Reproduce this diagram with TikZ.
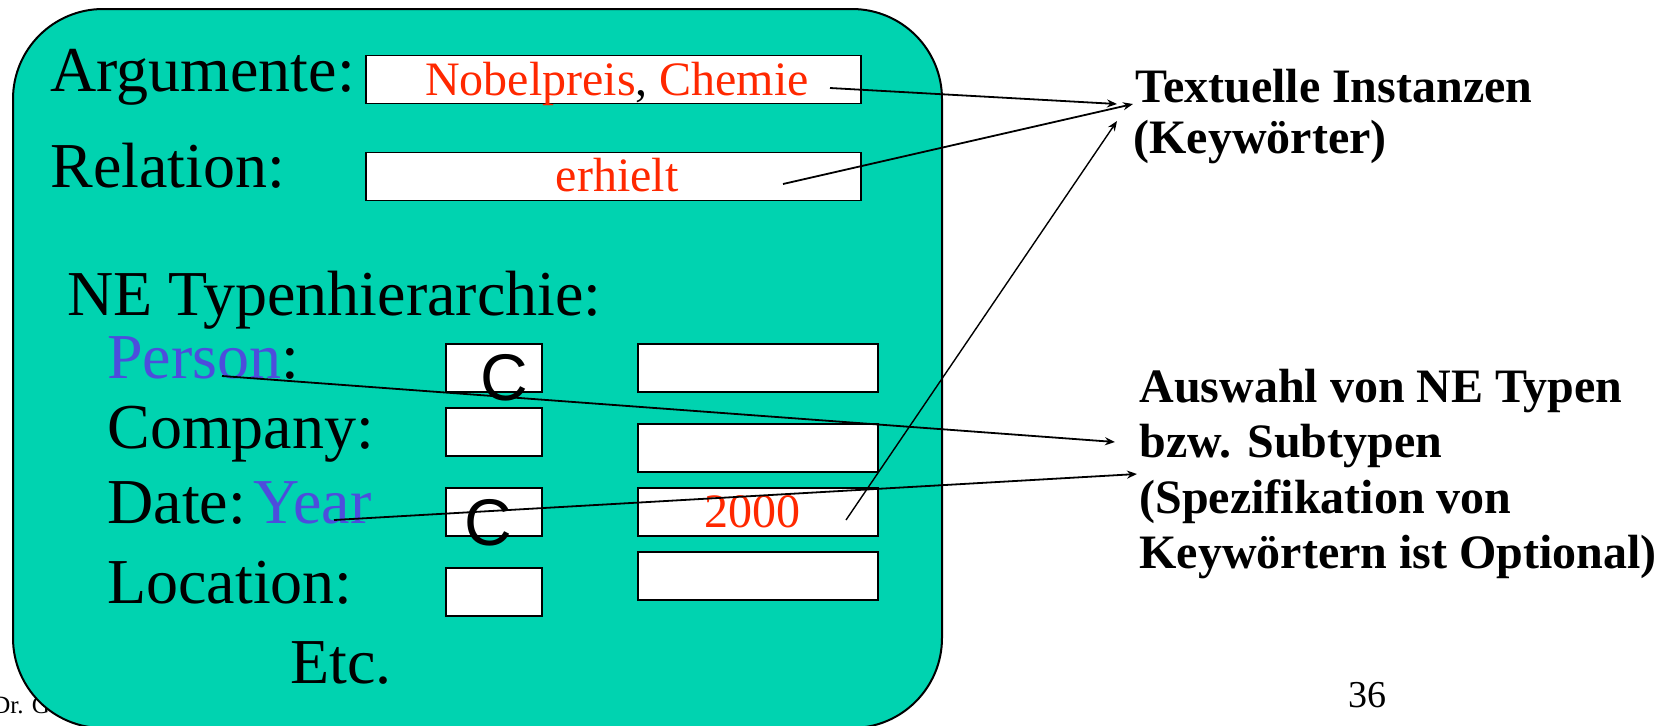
\documentclass[tikz,border=0pt]{standalone}
\usepackage{fontspec}
\setmainfont{Liberation Serif}
\newfontfamily\arialfont{Liberation Sans}
\usepackage{tikz}
\usetikzlibrary{arrows.meta}
\definecolor{panelgreen}{RGB}{0,211,176}
\definecolor{keyred}{RGB}{255,40,0}
\definecolor{typeblue}{RGB}{77,77,220}

\begin{document}
\begin{tikzpicture}[x=0.5pt, y=-0.5pt,
    row text/.style={anchor=base west, inner sep=0, font=\fontsize{32}{38}\selectfont},
    field/.style={draw, fill=white, line width=0.8pt, inner sep=0, minimum height=24pt},
    key text/.style={anchor=base, inner sep=0, text=keyred, font=\fontsize{24}{28}\selectfont},
    note text/.style={anchor=base west, inner sep=0, font=\fontsize{24}{28}\selectfont\bfseries},
    check mark/.style={anchor=base west, inner sep=0, font=\arialfont\fontsize{33}{38}\selectfont},
    link/.style={-{Stealth[length=5pt, width=4pt]}, line width=0.9pt}]
    \useasboundingbox (0,0) rectangle (1666,725);
    \node[anchor=base west, inner sep=0, font=\fontsize{12.5}{15}\selectfont] (author) at (-8,713) {Dr. G};
    \node[draw, fill=panelgreen, line width=1pt, rounded corners=45pt, minimum width=464.5pt, minimum height=359.5pt] (panel) at (477.5,368.5) {};
    \node[field, minimum width=247.5pt] (argbox) at (613.5,79.5) {};
    \node[field, minimum width=247.5pt] (relbox) at (613.5,176.5) {};
    \foreach \y [count=\i] in {368,432,512,592}
        \node[field, minimum width=48pt] (sel\i) at (494,\y) {};
    \foreach \y [count=\i] in {368,448,512,576}
        \node[field, minimum width=120pt] (slot\i) at (758,\y) {};
    \node[row text] (arg) at (50,91) {Argumente:};
    \node[row text] (rel) at (50,187) {Relation:};
    \node[row text] (ne) at (67,315) {NE Typenhierarchie:};
    \node[row text] (person) at (107,378) {\textcolor{typeblue}{Person}:};
    \node[row text] (company) at (107,448) {Company:};
    \node[row text] (date) at (107,523) {Date:\hspace{0.12em}\textcolor{typeblue}{Year}};
    \node[row text] (location) at (107,603) {Location:};
    \node[row text] (etc) at (290,683) {Etc.};
    \node[key text] (argval) at (617,95) {Nobelpreis\textcolor{black}{,} Chemie};
    \node[key text] (relval) at (617,191) {erhielt};
    \node[key text] (yearval) at (752,527) {2000};
    \node[check mark] (c1) at (480,400) {C};
    \node[check mark] (c3) at (464,545) {C};
    \node[note text] (kw1) at (1135,102) {Textuelle Instanzen};
    \node[note text] (kw2) at (1133,153) {(Keywörter)};
    \node[note text] (ne1) at (1139,402) {Auswahl von NE Typen};
    \node[note text] (ne2) at (1139,457) {bzw. Subtypen};
    \node[note text] (ne3) at (1139,513) {(Spezifikation von};
    \node[note text] (ne4) at (1139,568) {Keywörtern ist Optional)};
    \node[anchor=base west, inner sep=0, font=\fontsize{19}{23}\selectfont] (page) at (1348,707) {36};
    \coordinate (chemie) at (830,88);
    \coordinate (erhielt) at (783,184);
    \coordinate (year2000) at (846,520);
    \coordinate (persontype) at (222,376);
    \coordinate (yeartype) at (334,520);
    \coordinate (kwtipA) at (1117,104);
    \coordinate (kwtipB) at (1133,104);
    \coordinate (kwtipC) at (1117,121);
    \coordinate (netipA) at (1115,442);
    \coordinate (netipB) at (1137,474);
    \draw[link] (chemie) -- (kwtipA);
    \draw[link] (erhielt) -- (kwtipB);
    \draw[link, line width=0.7pt] (year2000) -- (kwtipC);
    \draw[link] (persontype) -- (netipA);
    \draw[link] (yeartype) -- (netipB);
\end{tikzpicture}
\end{document}
